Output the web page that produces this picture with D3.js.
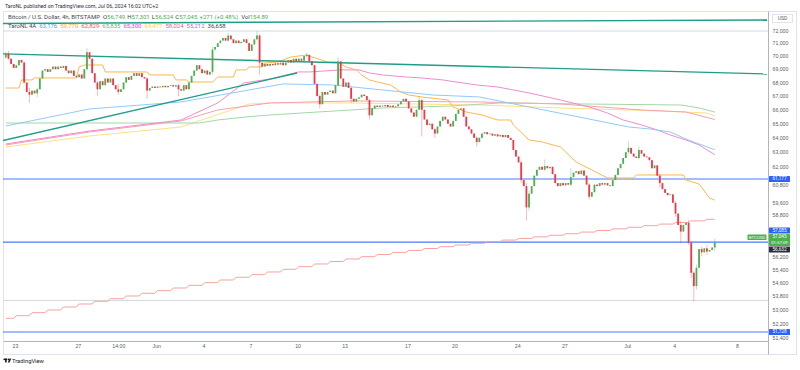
<!DOCTYPE html>
<html>
<head>
<meta charset="utf-8">
<script src="https://cdn.jsdelivr.net/npm/d3@7/dist/d3.min.js"></script>
<style>
  body { margin: 0; background: #fff; }
  svg { display: block; font-family: Roboto, "Liberation Sans", Arial, sans-serif; }
</style>
</head>
<body>
<svg id="chart" width="800" height="370"></svg>
<script>
// 4h BTCUSD bars, times are chart time (UTC+2) kept as UTC
var firstBar = Date.UTC(2024, 4, 22, 10);
var barMs = 4 * 3600 * 1000;
var firstOpen = 69900;

var closes = [
  70200, 69800, 69400, 69100, 69300, 69700, 69500, 68000, 67300, 67100, 67400, 67200,
  67500, 68300, 68900, 69000, 68800, 69000, 69200, 69000, 69200, 69100, 69250, 68900,
  68700, 68900, 68500, 68400, 68600, 68300, 69000, 70300, 69800, 68700, 68000, 67500,
  68100, 67800, 68300, 68000, 68300, 67800, 67500, 67300, 67500, 68000, 68400, 68200,
  68500, 68700, 68500, 68700, 68400, 68300, 67400, 67600, 67700, 67600, 67700, 67650,
  67750, 67650, 67750, 67800, 67700, 67800, 67500, 67400, 67800, 67500, 68000, 68500,
  68900, 69300, 69000, 68700, 68900, 68600, 68800, 70500, 70700, 71000, 71200, 71400,
  71200, 71600, 71300, 71000, 71200, 71000, 71100, 71300, 71000, 70400, 70900, 71300,
  71600, 69500, 69200, 69400, 69250, 69400, 69300, 69450, 69350, 69500, 69300, 69500,
  69700, 69500, 69800, 69600, 69800, 69650, 70000, 70100, 69600, 69300, 67900, 67000,
  66400, 67300, 67100, 67300, 67400, 67200, 67800, 69600, 68300, 67700, 68000, 67600,
  66800, 66600, 66800, 66900, 67100, 67000, 66700, 65600, 66100, 66300, 66200, 66300,
  66250, 66350, 66200, 66300, 66200, 66250, 66400, 66600, 66800, 66600, 66100, 65800,
  65500, 66000, 66700, 66000, 65300, 64900, 65000, 64600, 64300, 64800, 65200, 65500,
  65300, 65000, 64800, 65200, 65700, 66000, 66100, 65500, 64800, 64600, 64300, 64000,
  63700, 64000, 64300, 64400, 64250, 64300, 64150, 64250, 64100, 64200, 64050, 64200,
  64000, 63850, 63150, 62700, 62300, 61100, 60700, 59300, 60200, 60700, 61400, 61800,
  62000, 61800, 62050, 61900, 62000, 61500, 60900, 60700, 60900, 60750, 60900, 60800,
  61300, 61600, 61700, 61500, 61750, 61400, 60800, 60000, 60300, 60800, 60700, 60900,
  60800, 60900, 60750, 60700, 61100, 61450, 61900, 62200, 62600, 63000, 63300, 62900,
  62700, 62600, 63150, 62900, 62700, 62650, 62450, 61900, 62100, 61400, 60900, 60500,
  60250, 60100, 60150, 59600, 58900, 58170, 57750, 58170, 58300, 57050, 55200, 54400,
  55500, 56650, 56450, 56700, 56500, 56600, 56749, 57045
];

// bars with wicks past the body: [bar, high, low]
var wicks = [
  [0, 70350, 69800], [1, 70400, 69700], [7, 69600, 67900], [9, 67600, 66500], [12, 67600, 66900],
  [31, 70600, 68900], [35, 68100, 67000], [43, 67900, 67100], [54, 68400, 66800], [66, 67900, 67000],
  [79, 70700, 68600], [85, 71800, 71100], [96, 71950, 71200], [97, 71700, 68600], [115, 70250, 69900],
  [120, 67100, 66100], [127, 69900, 67700], [132, 67700, 66500], [139, 66800, 65300], [158, 67000, 66000],
  [159, 66800, 64100], [164, 64700, 64000], [180, 64100, 63400], [197, 62400, 60900], [199, 60900, 58450],
  [200, 60400, 59100], [206, 62500, 61700], [216, 61900, 60700], [223, 60900, 59800], [238, 63750, 62900],
  [242, 63400, 62500], [250, 61500, 60600], [256, 59700, 58700], [258, 58400, 57000], [261, 58500, 56900],
  [262, 57100, 54900], [263, 55300, 53500], [264, 55700, 54200], [266, 56800, 56200], [268, 56900, 56300],
  [271, 57301, 56524]
];

// study lines: [bar, price]
var blueLine = [[0, 64835], [32, 66060], [67, 66567], [93, 67449], [106, 67894], [125, 67820], [144, 67449],
  [163, 67080], [181, 66933], [200, 66200], [219, 65484], [238, 64768], [246, 64627], [254, 64413],
  [260, 63918], [265, 63570], [271, 63176]];
var orangeLine = [[0, 67593], [5, 67593], [6, 68195], [10, 68195], [11, 68343], [27, 68343], [28, 69172],
  [30, 69320], [37, 69320], [38, 68794], [54, 68794], [55, 68567], [64, 68567], [65, 68195], [69, 68195],
  [70, 68041], [79, 68041], [81, 68414], [87, 68414], [88, 68947], [92, 68947], [93, 69172], [98, 69172],
  [99, 69473], [104, 69549], [109, 69932], [115, 70089], [117, 69932], [123, 69549], [127, 69549],
  [130, 69172], [134, 68947], [136, 68567], [139, 68195], [142, 68041], [147, 67820], [151, 67301],
  [154, 67080], [159, 66933], [169, 66713], [171, 66200], [176, 65837], [182, 65624], [188, 65264],
  [193, 65264], [194, 64910], [200, 63851], [205, 63710], [212, 63361], [218, 62327], [224, 61782],
  [230, 61244], [240, 61244], [241, 61446], [259, 61446], [260, 61110], [265, 60842], [269, 59916], [271, 59770]];
var greenLine = [[0, 65050], [36, 65050], [74, 65050], [81, 65264], [92, 65484], [101, 65624], [119, 65837],
  [132, 65985], [144, 66132], [157, 66200], [170, 66273], [189, 66494], [220, 66420], [258, 66346],
  [265, 66132], [271, 65835]];
var pinkLine = [[0, 63570], [32, 64481], [67, 65264], [81, 66494], [91, 67967], [101, 68268], [112, 68794],
  [116, 68794], [128, 68947], [135, 68947], [139, 68715], [144, 68567], [153, 68414], [159, 68343],
  [167, 68195], [172, 68041], [180, 67820], [188, 67669], [200, 67228], [212, 66713], [223, 66200],
  [230, 65766], [236, 65264], [243, 64910], [249, 64554], [254, 64199], [260, 63851], [265, 63502], [271, 62829]];
var roseLine = [[0, 63502], [32, 64413], [67, 65196], [81, 65985], [101, 66494], [132, 66640], [181, 66567],
  [212, 66420], [243, 65985], [260, 65837], [271, 65300]];
var yellowLine = [[0, 63361], [32, 64130], [67, 64768], [93, 66420], [101, 66494], [132, 66494], [181, 66346],
  [212, 66132], [250, 65911], [268, 65766], [271, 65551]];
// daily value, first entry is May 22
var dailyLine = [52511, 52661, 52835, 52991, 53166, 53341, 53499, 53652, 53811, 53971, 54125, 54285,
  54446, 54602, 54764, 54926, 55083, 55247, 55410, 55569, 55733, 55886, 56039, 56181, 56316, 56446,
  56570, 56688, 56800, 56906, 57013, 57113, 57212, 57313, 57414, 57515, 57616, 57717, 57818, 57919,
  58021, 58123, 58225, 58327, 58430, 58532];

// drawn trend lines: [bar, price] anchors
var trendTop = [[-1.1, 72550], [291, 72829]];
var trendDown = [[-1.1, 70171], [291, 68641]];
var trendUp = [[-1.1, 63808], [111.3, 68716]];

var levelLines = [61177, 57085, 51728];
var extremeLines = [71950, 53550];

var priceTicks = [72000, 71000, 70000, 69000, 68000, 67000, 66000, 65000, 64000, 63000, 62000,
  60800, 59600, 58800, 58000, 57200, 56200, 55400, 54600, 53800, 53000, 52200, 51400];
var timeTickDates = ["2024-05-23T00:00", "2024-05-27T00:00", "2024-05-29T14:00", "2024-06-01T00:00",
  "2024-06-04T00:00", "2024-06-07T00:00", "2024-06-10T00:00", "2024-06-13T00:00", "2024-06-17T00:00",
  "2024-06-20T00:00", "2024-06-24T00:00", "2024-06-27T00:00", "2024-07-01T00:00", "2024-07-04T00:00",
  "2024-07-08T00:00"];
var timeTickLabels = ["23", "27", "14:00", "Jun", "4", "7", "10", "13", "17", "20", "24", "27", "Jul", "4", "8"];

var ohlcNames = ["O", "H", "L", "C"];
var ohlcValues = ["56,749", "57,301", "56,524", "57,045"];
var studyValues = ["63,176", "59,770", "62,829", "65,835", "65,300", "64,477", "58,024", "55,212", "36,658"];
var studyColors = ["#42a5f5", "#ffa726", "#ef5350", "#66bb6a", "#e040fb", "#fdd835", "#f06292", "#ba68c8", "#434651"];

var up = "#4caf50", down = "#f23645", blue = "#2962ff";
var pane = { left: 3, right: 768, top: 11.5, bottom: 341.5 };

var parseT = d3.utcParse("%Y-%m-%dT%H:%M");
var fmt = d3.format(",");
function barTime(i){ return new Date(firstBar + i * barMs); }

var svg = d3.select("#chart");

var x = d3.scaleUtc()
  .domain([parseT("2024-05-23T00:00"), parseT("2024-07-08T00:00")])
  .range([15, 737]);
var y = d3.scaleLog().domain([51728, 72000]).range([332, 30.4]);
function bx(i){ return x(barTime(i)); }

// frame
svg.append("rect").attr("x", 3.5).attr("y", 11.5).attr("width", 793).attr("height", 343)
  .attr("fill", "none").attr("stroke", "#e0e3eb");
svg.append("line").attr("x1", 768.5).attr("x2", 768.5).attr("y1", 11.5).attr("y2", 354.5).attr("stroke", "#b2b5be");
svg.append("line").attr("x1", 3.5).attr("x2", 768.5).attr("y1", 341.5).attr("y2", 341.5).attr("stroke", "#b2b5be");

svg.append("clipPath").attr("id", "paneClip").append("rect")
  .attr("x", pane.left).attr("y", pane.top).attr("width", pane.right - pane.left).attr("height", pane.bottom - pane.top);
var plot = svg.append("g").attr("clip-path", "url(#paneClip)");

// horizontal levels
extremeLines.forEach(function(p){
  plot.append("line").attr("x1", pane.left).attr("x2", pane.right).attr("y1", y(p)).attr("y2", y(p))
    .attr("stroke", "#d6d8de").attr("stroke-width", 1);
});
levelLines.forEach(function(p){
  plot.append("line").attr("x1", pane.left).attr("x2", pane.right).attr("y1", y(p)).attr("y2", y(p))
    .attr("stroke", blue).attr("stroke-width", 1.2).attr("opacity", 0.85);
});

// study lines
var line = d3.line().x(function(d){ return bx(d[0]); }).y(function(d){ return y(d[1]); });
var stepPts = [];
dailyLine.forEach(function(v, k){
  var s = k === 0 ? 0 : 4 + 6 * (k - 1);
  var e = Math.min(4 + 6 * k - 1, 271);
  stepPts.push([s, v], [e, v]);
});
var studies = [
  [stepPts, "#f7a1a1"], [yellowLine, "#ffe082"], [roseLine, "#f4a0b4"], [greenLine, "#a5d6a7"],
  [pinkLine, "#f08ccc"], [orangeLine, "#ffb74d"], [blueLine, "#90caf9"]
];
studies.forEach(function(s){
  plot.append("path").datum(s[0]).attr("d", line).attr("fill", "none")
    .attr("stroke", s[1]).attr("stroke-width", 1);
});

// trend lines
[trendTop, trendDown, trendUp].forEach(function(t){
  plot.append("path").datum(t).attr("d", line).attr("fill", "none")
    .attr("stroke", "#1e9e86").attr("stroke-width", 1.4);
});

// candles
var candles = closes.map(function(c, i){
  var o = i === 0 ? firstOpen : closes[i - 1];
  return { i: i, o: o, c: c, h: Math.max(o, c), l: Math.min(o, c) };
});
wicks.forEach(function(w){ candles[w[0]].h = w[1]; candles[w[0]].l = w[2]; });

var cg = plot.append("g");
cg.selectAll("line").data(candles).enter().append("line")
  .attr("x1", function(d){ return bx(d.i); }).attr("x2", function(d){ return bx(d.i); })
  .attr("y1", function(d){ return y(d.h); }).attr("y2", function(d){ return y(d.l); })
  .attr("stroke", function(d){ return d.c >= d.o ? up : down; })
  .attr("stroke-width", 0.7).attr("opacity", 0.5);
cg.selectAll("rect").data(candles).enter().append("rect")
  .attr("x", function(d){ return bx(d.i) - 0.9; }).attr("width", 1.8)
  .attr("y", function(d){ return y(Math.max(d.o, d.c)); })
  .attr("height", function(d){ return Math.max(0.7, y(Math.min(d.o, d.c)) - y(Math.max(d.o, d.c))); })
  .attr("fill", function(d){ return d.c >= d.o ? up : down; });

// price labels on the axis, stacked upward when they overlap
var priceLabels = [
  { p: 51728, lines: ["51,728"], fill: blue },
  { p: 56632, lines: ["56,632"], fill: "#2a2e39" },
  { p: 57045, lines: ["57,045", "01:57:09"], fill: up, tag: "BTCUSD" },
  { p: 57085, lines: ["57,085"], fill: blue },
  { p: 61177, lines: ["61,177"], fill: blue }
];
var lineH = 6;
var lastTop = Infinity;
priceLabels.forEach(function(lb){
  var h = lb.lines.length * lineH;
  var top = y(lb.p) - lineH / 2;
  if (top + h > lastTop - 0.5) top = lastTop - 0.5 - h;
  lastTop = top;
  lb.top = top;
  lb.h = h;
});

// price axis (tick labels that sit under a label box are dropped, as the boxes hide them)
var shownTicks = priceTicks.filter(function(t){
  return !priceLabels.some(function(lb){
    var c = lb.top + lb.h / 2;
    return Math.abs(y(t) - c) < lb.h / 2 + 2;
  });
});
var yAxis = svg.append("g").attr("transform", "translate(770,0)")
  .call(d3.axisRight(y).tickValues(shownTicks).tickSize(0).tickPadding(2.5).tickFormat(fmt));
yAxis.select(".domain").remove();
yAxis.selectAll("text").attr("font-size", 5.2).attr("fill", "#5d606b").attr("font-family", null);

priceLabels.forEach(function(lb){
  svg.append("rect").attr("x", 769).attr("y", lb.top).attr("width", 21).attr("height", lb.h)
    .attr("fill", lb.fill).attr("rx", 0.6);
  lb.lines.forEach(function(t, k){
    svg.append("text").attr("x", 779.5).attr("y", lb.top + 4.4 + k * lineH).attr("text-anchor", "middle")
      .attr("font-size", k ? 4.3 : 4.7).attr("fill", "#fff").text(t);
  });
  if (lb.tag) {
    svg.append("rect").attr("x", 747.5).attr("y", lb.top + 0.6).attr("width", 19).attr("height", 5.6)
      .attr("fill", lb.fill).attr("rx", 0.6);
    svg.append("text").attr("x", 757).attr("y", lb.top + 4.7).attr("text-anchor", "middle")
      .attr("font-size", 4.4).attr("fill", "#fff").text(lb.tag);
  }
});

// time axis
var xAxis = svg.append("g").attr("transform", "translate(0,341.5)")
  .call(d3.axisBottom(x).tickValues(timeTickDates.map(parseT)).tickSize(0).tickPadding(3.2)
    .tickFormat(function(d, i){ return timeTickLabels[i]; }));
xAxis.select(".domain").remove();
xAxis.selectAll("text").attr("font-size", 5.2).attr("fill", "#5d606b").attr("font-family", null);

// USD box
svg.append("rect").attr("x", 772.5).attr("y", 14.5).attr("width", 20).attr("height", 8)
  .attr("fill", "#fff").attr("stroke", "#e0e3eb");
svg.append("text").attr("x", 782.5).attr("y", 20.3).attr("text-anchor", "middle")
  .attr("font-size", 5).attr("fill", "#5d606b").text("USD");

// header and legend
svg.append("text").attr("x", 5).attr("y", 8.3).attr("font-size", 5.3).attr("fill", "#2a2e39")
  .text("TaroNL published on TradingView.com, Jul 06, 2024 16:02 UTC+2");

function legendRow(items, yBase){
  var xPos = 8;
  items.forEach(function(it){
    var t = svg.append("text").attr("x", xPos).attr("y", yBase).attr("font-size", 6)
      .attr("fill", it[1]).text(it[0]);
    xPos += t.node().getComputedTextLength() + it[2];
  });
}
var row1 = [["Bitcoin / U.S. Dollar, 4h, BITSTAMP", "#434651", 3]];
ohlcNames.forEach(function(n, k){
  row1.push([n, "#434651", 0], [ohlcValues[k], up, 2.2]);
});
row1.push(["+271 (+0.48%)", up, 3], ["Vol", "#434651", 0], ["154.89", up, 0]);
legendRow(row1, 19.2);

var row2 = [["TaroNL 4A", "#434651", 3]];
studyValues.forEach(function(v, k){ row2.push([v, studyColors[k], 3]); });
legendRow(row2, 27.5);

// footer logo
var logo = svg.append("g").attr("fill", "#131722");
logo.append("rect").attr("x", 3.5).attr("y", 358.6).attr("width", 3.6).attr("height", 1.5);
logo.append("rect").attr("x", 5.1).attr("y", 358.6).attr("width", 1.6).attr("height", 3.8);
logo.append("circle").attr("cx", 8.4).attr("cy", 359.4).attr("r", 0.8);
logo.append("path").attr("d", "M9.6,358.6 L11.3,358.6 L9.5,362.4 L7.8,362.4 Z");
svg.append("text").attr("x", 12).attr("y", 362.6).attr("font-size", 5.8).attr("fill", "#131722")
  .text("TradingView");
</script>
</body>
</html>
